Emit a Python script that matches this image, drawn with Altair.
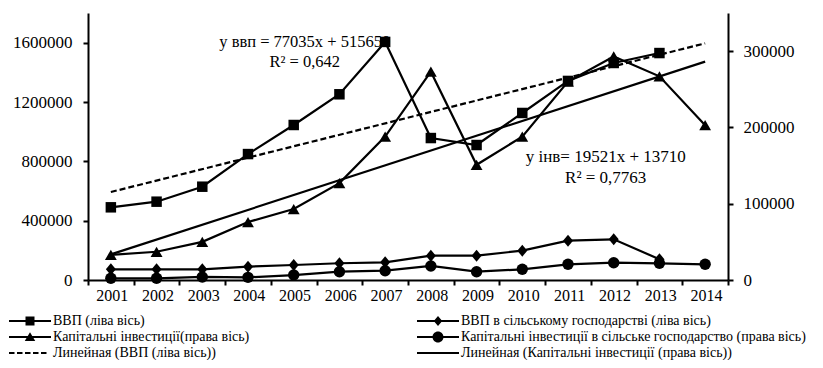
import altair as alt
import pandas as pd

FONT = "Liberation Serif"

years = list(range(2001, 2015))
gdp = [490000, 528000, 629000, 849000, 1045000, 1252000, 1605000, 957000,
       910000, 1126000, 1342000, 1463000, 1530000, None]
gdp_agri = [72000, 72000, 72000, 90000, 101000, 113000, 119000, 164000,
            164000, 198000, 265000, 274000, 140000, None]
invest = [33000, 37000, 50000, 76000, 93000, 127000, 188000, 273000,
          151000, 188000, 260000, 293000, 267000, 203000]
invest_agri = [2200, 2200, 4000, 3500, 6500, 10900, 12200, 18400,
               10900, 14000, 20600, 22700, 21900, 20600]

legend_labels = [
    "ВВП (ліва вісь)",
    "ВВП в сільському господарстві  (ліва вісь)",
    "Капітальні інвестиції(права вісь)",
    "Капітальні інвестиції в сільське господарство (права вісь)",
    "Линейная (ВВП (ліва вісь))",
    "Линейная (Капітальні інвестиції (права вісь))",
]
eq_gdp = ["y ввп = 77035x  + 515650", "R² = 0,642"]
eq_inv = ["y інв= 19521x  + 13710", "R² = 0,7763"]
left_ticks = list(range(0, 1800001, 200000))
right_ticks = list(range(0, 350001, 50000))

rows = []
for name, vals in [("gdp", gdp), ("gdp_agri", gdp_agri),
                   ("inv", invest), ("inv_agri", invest_agri)]:
    for yr, v in zip(years, vals):
        if v is not None:
            rows.append({"year": yr, "t": yr - 2000, "series": name, "value": v})
df = pd.DataFrame(rows)


# legend symbol paths (filled line bar + marker); unit = 5px (symbolSize 100)
def bar(a, b):
    return f"M{a},-0.2H{b}V0.2H{a}Z"


LINE = bar(-4.2, 4.2)
DASHED = "".join(bar(a, b) for a, b in
                 [(-4.2, -3.1), (-2.6, -1.5), (-1.0, 0.1), (0.6, 1.7), (2.2, 3.3)])
legend_paths = [
    LINE + "M-0.9,-0.9H0.9V0.9H-0.9Z",
    LINE + "M0,-1L0.85,0L0,1L-0.85,0Z",
    LINE + "M0,-0.95L1.05,0.8L-1.05,0.8Z",
    LINE + "M-1.1,0A1.1,1.1,0,1,1,1.1,0A1.1,1.1,0,1,1,-1.1,0Z",
    DASHED,
    LINE,
]
# Vega fills legend columns first: reorder so reading order is row-wise
legend_order = [legend_labels[i] for i in (0, 2, 4, 1, 3, 5)]
path_order = [legend_paths[i] for i in (0, 2, 4, 1, 3, 5)]

BAND = 640 / len(years)

x_enc = alt.X(
    "year:O",
    scale=alt.Scale(domain=years, paddingInner=0, paddingOuter=0),
    axis=alt.Axis(title=None, labelAngle=0, tickBand="extent", labelFont=FONT,
                  labelFontSize=16, tickSize=5, labelPadding=10, orient="bottom",
                  labelOffset=BAND / 2 - 6, labelOverlap=False),
)
y_left = alt.Y(
    "value:Q",
    scale=alt.Scale(domain=[0, 1800000], nice=False),
    axis=alt.Axis(title=None, orient="left", values=left_ticks, format="d",
                  grid=False, labelFont=FONT, labelFontSize=17, tickSize=5,
                  labelPadding=11, labelOverlap=False),
)
y_right = alt.Y(
    "value:Q",
    scale=alt.Scale(domain=[0, 350000], nice=False),
    axis=alt.Axis(title=None, orient="right", values=right_ticks, format="d",
                  grid=False, labelFont=FONT, labelFontSize=17, tickSize=5,
                  labelPadding=10, labelOverlap=False),
)

base = alt.Chart(df)


def series(name):
    return base.transform_filter(f"datum.series == '{name}'")


LW = 2.2

gdp_text = alt.Chart(alt.Data(values=[{}])).mark_text(
    font=FONT, fontSize=16.5, color="black", align="center", baseline="middle",
    lineHeight=20, dx=11
).encode(x=alt.X(datum=2005, type="ordinal"),
         y=alt.Y(datum=1605000, type="quantitative"),
         text=alt.value(eq_gdp))

gdp_trend = series("gdp").transform_regression(
    "t", "value", extent=[1, 14]
).transform_calculate(year="datum.t + 2000").mark_line(
    color="black", strokeWidth=LW, strokeDash=[6, 3]
).encode(x=x_enc, y=y_left)

gdp_line = series("gdp").mark_line(color="black", strokeWidth=LW).encode(x=x_enc, y=y_left)
gdp_pts = series("gdp").mark_point(shape="square", filled=True, color="black",
                                   size=110, opacity=1).encode(x=x_enc, y=y_left)
agri_line = series("gdp_agri").mark_line(color="black", strokeWidth=LW).encode(x=x_enc, y=y_left)
agri_pts = series("gdp_agri").mark_point(shape="M0,-1.2L1,0L0,1.2L-1,0Z", filled=True,
                                         color="black", size=100, opacity=1).encode(x=x_enc, y=y_left)

left = alt.layer(gdp_text, gdp_trend, gdp_line, agri_line, gdp_pts, agri_pts)

inv_text = alt.Chart(alt.Data(values=[{}])).mark_text(
    font=FONT, fontSize=17, color="black", align="center", baseline="middle",
    lineHeight=21, dx=-8
).encode(x=alt.X(datum=2012, type="ordinal"),
         y=alt.Y(datum=161000, type="quantitative"),
         text=alt.value(eq_inv))

inv_trend = series("inv").transform_regression(
    "t", "value", extent=[1, 14]
).transform_calculate(year="datum.t + 2000").mark_line(
    color="black", strokeWidth=LW
).encode(x=x_enc, y=y_right)

inv_line = series("inv").mark_line(color="black", strokeWidth=LW).encode(x=x_enc, y=y_right)
inv_pts = series("inv").mark_point(shape="triangle-up", filled=True, color="black",
                                   size=140, opacity=1).encode(x=x_enc, y=y_right)
ia_line = series("inv_agri").mark_line(color="black", strokeWidth=LW).encode(x=x_enc, y=y_right)
ia_pts = series("inv_agri").mark_point(shape="circle", filled=True, color="black",
                                       size=130, opacity=1).encode(x=x_enc, y=y_right)

right = alt.layer(inv_text, inv_trend, inv_line, ia_line, inv_pts, ia_pts)

legend_layer = alt.Chart(alt.Data(values=[{"s": s} for s in legend_labels])).mark_point(
    filled=True, color="black", opacity=0, size=100
).encode(
    shape=alt.Shape(
        "s:N",
        scale=alt.Scale(domain=legend_order, range=path_order),
        legend=alt.Legend(
            title=None, orient="none", legendX=-81, legendY=301, columns=2,
            columnPadding=165, rowPadding=2, padding=0, direction="vertical",
            labelFont=FONT, labelFontSize=14, labelColor="black", labelLimit=0,
            labelOffset=16, symbolOffset=16, symbolSize=100, symbolStrokeWidth=0,
            symbolFillColor="black", symbolOpacity=1,
        ),
    )
)

chart = alt.layer(left, right, legend_layer).resolve_scale(
    y="independent"
).properties(
    width=640, height=267,
    autosize=alt.AutoSizeParams(type="none"),
    padding={"left": 80, "top": 5, "right": 87, "bottom": 80},
).configure(font=FONT).configure_view(stroke=None).configure_axis(
    labelColor="black", domainColor="black", tickColor="black",
    domainWidth=2, tickWidth=2, grid=False,
)

chart.save("out.html", embed_options={"renderer": "svg", "actions": False})
